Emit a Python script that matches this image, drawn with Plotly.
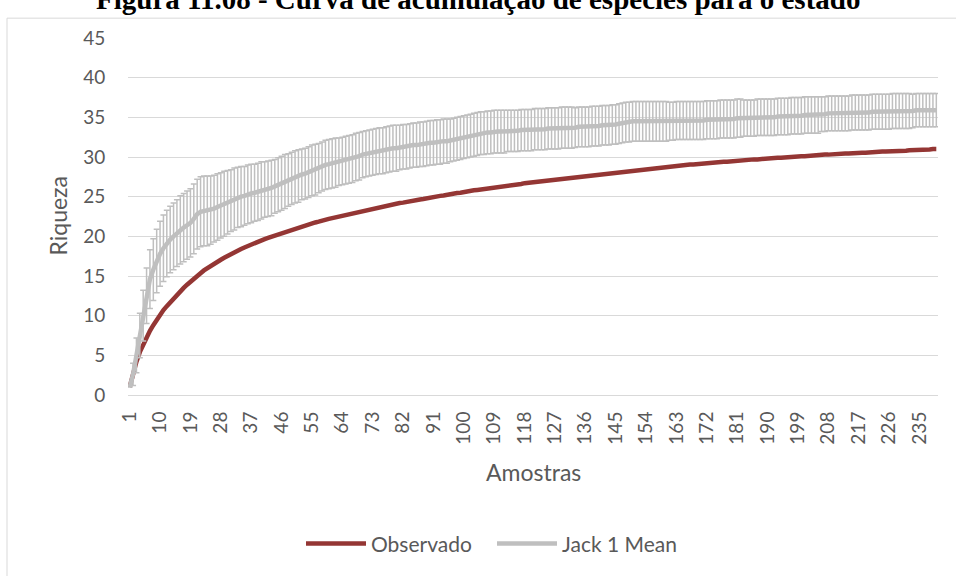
import plotly.graph_objects as go

# ---------------- data ----------------
amostras = list(range(1, 241))
tick_labels = [str(v) for v in range(1, 241, 9)]

observado = [
    1.0, 2.8, 4.2, 5.4, 6.4, 7.3, 8.1, 8.8, 9.5, 10.1,
    10.7, 11.2, 11.7, 12.2, 12.7, 13.1, 13.5, 13.9, 14.3, 14.7,
    15.0, 15.35, 15.7, 16.0, 16.3, 16.55, 16.8, 17.05, 17.3, 17.55,
    17.8, 18.0, 18.2, 18.4, 18.6, 18.8, 19.0, 19.15, 19.3, 19.5,
    19.65, 19.8, 19.95, 20.1, 20.25, 20.4, 20.55, 20.7, 20.85, 21.0,
    21.1, 21.25, 21.35, 21.5, 21.6, 21.75, 21.85, 22.0, 22.1, 22.2,
    22.3, 22.4, 22.5, 22.6, 22.7, 22.8, 22.9, 23.0, 23.1, 23.2,
    23.3, 23.4, 23.5, 23.55, 23.65, 23.75, 23.85, 23.9, 24.0, 24.1,
    24.2, 24.25, 24.35, 24.4, 24.5, 24.55, 24.65, 24.7, 24.8, 24.85,
    24.95, 25.0, 25.1, 25.15, 25.25, 25.3, 25.4, 25.45, 25.5, 25.6,
    25.65, 25.7, 25.8, 25.85, 25.9, 26.0, 26.05, 26.1, 26.15, 26.25,
    26.3, 26.35, 26.4, 26.45, 26.5, 26.55, 26.6, 26.7, 26.75, 26.8,
    26.85, 26.9, 26.95, 27.0, 27.05, 27.1, 27.15, 27.2, 27.25, 27.3,
    27.35, 27.4, 27.45, 27.5, 27.55, 27.6, 27.65, 27.7, 27.75, 27.8,
    27.85, 27.9, 27.95, 28.0, 28.05, 28.1, 28.15, 28.2, 28.25, 28.3,
    28.35, 28.4, 28.45, 28.5, 28.5, 28.55, 28.6, 28.65, 28.7, 28.75,
    28.8, 28.85, 28.9, 28.9, 28.95, 29.0, 29.05, 29.05, 29.1, 29.15,
    29.2, 29.2, 29.25, 29.3, 29.3, 29.35, 29.4, 29.4, 29.45, 29.5,
    29.5, 29.55, 29.6, 29.6, 29.65, 29.7, 29.7, 29.75, 29.75, 29.8,
    29.85, 29.85, 29.9, 29.9, 29.95, 30.0, 30.0, 30.05, 30.05, 30.1,
    30.1, 30.15, 30.2, 30.2, 30.25, 30.25, 30.3, 30.3, 30.35, 30.35,
    30.4, 30.4, 30.45, 30.45, 30.5, 30.5, 30.5, 30.55, 30.55, 30.6,
    30.6, 30.65, 30.65, 30.7, 30.7, 30.7, 30.75, 30.75, 30.8, 30.8,
    30.8, 30.85, 30.85, 30.9, 30.9, 30.9, 30.95, 30.95, 31.0, 31.0,
]

jack1_mean = [
    1.0, 2.6, 5.0, 7.5, 10.0, 12.5, 14.6, 15.8, 16.9, 17.8,
    18.5, 19.1, 19.6, 20.0, 20.4, 20.8, 21.1, 21.4, 21.7, 22.2,
    22.8, 23.1, 23.2, 23.2, 23.3, 23.5, 23.7, 23.9, 24.1, 24.3,
    24.5, 24.7, 24.9, 25.0, 25.1, 25.3, 25.4, 25.5, 25.6, 25.8,
    25.9, 26.0, 26.1, 26.3, 26.5, 26.7, 26.9, 27.1, 27.3, 27.5,
    27.6, 27.8, 27.9, 28.1, 28.3, 28.4, 28.6, 28.8, 29.0, 29.1,
    29.2, 29.3, 29.4, 29.5, 29.6, 29.7, 29.8, 30.0, 30.1, 30.3,
    30.4, 30.5, 30.6, 30.7, 30.8, 30.8, 30.9, 31.0, 31.1, 31.1,
    31.2, 31.3, 31.3, 31.4, 31.5, 31.5, 31.6, 31.6, 31.7, 31.8,
    31.8, 31.9, 31.9, 32.0, 32.0, 32.1, 32.2, 32.3, 32.4, 32.5,
    32.6, 32.7, 32.8, 32.9, 33.0, 33.0, 33.1, 33.1, 33.2, 33.2,
    33.2, 33.2, 33.3, 33.3, 33.3, 33.3, 33.4, 33.4, 33.4, 33.4,
    33.5, 33.5, 33.5, 33.5, 33.6, 33.6, 33.6, 33.6, 33.7, 33.7,
    33.7, 33.7, 33.7, 33.8, 33.8, 33.8, 33.8, 33.9, 33.9, 33.9,
    34.0, 34.0, 34.0, 34.1, 34.1, 34.2, 34.3, 34.4, 34.4, 34.5,
    34.5, 34.5, 34.5, 34.5, 34.5, 34.5, 34.5, 34.5, 34.5, 34.5,
    34.5, 34.5, 34.6, 34.6, 34.6, 34.6, 34.6, 34.6, 34.6, 34.6,
    34.6, 34.7, 34.7, 34.7, 34.7, 34.8, 34.8, 34.8, 34.8, 34.8,
    34.9, 34.9, 34.9, 34.9, 34.9, 34.9, 35.0, 35.0, 35.0, 35.0,
    35.0, 35.0, 35.1, 35.1, 35.1, 35.1, 35.2, 35.2, 35.2, 35.2,
    35.3, 35.3, 35.3, 35.3, 35.3, 35.4, 35.4, 35.5, 35.5, 35.5,
    35.5, 35.5, 35.5, 35.5, 35.6, 35.6, 35.6, 35.6, 35.6, 35.6,
    35.7, 35.7, 35.7, 35.7, 35.7, 35.7, 35.8, 35.8, 35.8, 35.8,
    35.8, 35.8, 35.8, 35.9, 35.9, 35.9, 35.9, 35.9, 35.9, 35.9,
]

jack1_err = [
    0.0, 1.4, 2.2, 2.8, 3.2, 3.5, 3.7, 3.9, 4.0, 4.1,
    4.2, 4.2, 4.2, 4.2, 4.2, 4.3, 4.3, 4.3, 4.3, 4.4,
    4.4, 4.4, 4.4, 4.4, 4.3, 4.2, 4.2, 4.1, 4.1, 4.0,
    3.9, 3.9, 3.8, 3.8, 3.7, 3.7, 3.7, 3.6, 3.6, 3.6,
    3.5, 3.5, 3.5, 3.4, 3.4, 3.4, 3.4, 3.3, 3.3, 3.3,
    3.3, 3.2, 3.2, 3.2, 3.2, 3.2, 3.1, 3.1, 3.1, 3.1,
    3.1, 3.1, 3.0, 3.0, 3.0, 3.0, 3.0, 3.0, 3.0, 2.9,
    2.9, 2.9, 2.9, 2.9, 2.9, 2.9, 2.9, 2.9, 2.9, 2.9,
    2.8, 2.8, 2.8, 2.8, 2.8, 2.8, 2.8, 2.8, 2.8, 2.8,
    2.8, 2.8, 2.8, 2.8, 2.8, 2.7, 2.7, 2.7, 2.7, 2.7,
    2.7, 2.7, 2.7, 2.7, 2.7, 2.7, 2.7, 2.7, 2.7, 2.7,
    2.7, 2.7, 2.6, 2.6, 2.6, 2.6, 2.6, 2.6, 2.6, 2.6,
    2.6, 2.6, 2.6, 2.6, 2.6, 2.6, 2.6, 2.6, 2.6, 2.6,
    2.6, 2.6, 2.5, 2.5, 2.5, 2.5, 2.5, 2.5, 2.5, 2.5,
    2.5, 2.5, 2.5, 2.5, 2.5, 2.5, 2.5, 2.5, 2.5, 2.5,
    2.5, 2.5, 2.5, 2.5, 2.5, 2.5, 2.5, 2.5, 2.5, 2.5,
    2.4, 2.4, 2.4, 2.4, 2.4, 2.4, 2.4, 2.4, 2.4, 2.4,
    2.4, 2.4, 2.4, 2.4, 2.4, 2.4, 2.4, 2.4, 2.4, 2.4,
    2.4, 2.4, 2.3, 2.3, 2.3, 2.3, 2.3, 2.3, 2.3, 2.3,
    2.3, 2.3, 2.3, 2.3, 2.3, 2.3, 2.3, 2.3, 2.3, 2.3,
    2.3, 2.3, 2.3, 2.3, 2.3, 2.2, 2.2, 2.2, 2.2, 2.2,
    2.2, 2.2, 2.2, 2.2, 2.2, 2.2, 2.2, 2.2, 2.2, 2.2,
    2.2, 2.2, 2.2, 2.2, 2.2, 2.2, 2.2, 2.2, 2.2, 2.2,
    2.2, 2.2, 2.1, 2.1, 2.1, 2.1, 2.1, 2.1, 2.1, 2.1,
]

title_text = "Figura 11.08 - Curva de acumulação de espécies para o estado"

# ---------------- figure ----------------
W, H = 956, 576
ML, MR, MT, MB = 128, 18, 38, 178
PW, PH = W - ML - MR, H - MT - MB

def px_x(p):
    return (p - ML) / PW

def px_y(p):
    return (H - MB - p) / PH

TXT = "#595959"
FONT = "Lato"

fig = go.Figure()
fig.add_trace(go.Scatter(
    x=amostras, y=observado, name="Observado", mode="lines",
    line=dict(color="#943634", width=4.5),
))
fig.add_trace(go.Scatter(
    x=amostras, y=jack1_mean, name="Jack 1 Mean", mode="lines",
    line=dict(color="#BFBFBF", width=4.5),
    error_y=dict(type="data", array=jack1_err, visible=True,
                 color="#BFBFBF", thickness=1.5, width=3),
))

fig.update_layout(
    width=W, height=H,
    margin=dict(l=ML, r=MR, t=MT, b=MB),
    paper_bgcolor="white", plot_bgcolor="white",
    font=dict(family=FONT, color=TXT, size=19),
    showlegend=True,
    legend=dict(orientation="h", x=px_x(492), xanchor="center",
                y=px_y(548), yanchor="middle",
                font=dict(size=21, color=TXT, family=FONT),
                itemwidth=60, entrywidth=116, entrywidthmode="pixels",
                bgcolor="rgba(0,0,0,0)"),
    xaxis=dict(
        range=[0.5, 240.5], tickmode="array",
        tickvals=[int(t) for t in tick_labels], ticktext=tick_labels,
        tickangle=-90, showgrid=False, zeroline=False, showline=False,
        ticks="outside", ticklen=8, tickcolor="rgba(0,0,0,0)",
        tickfont=dict(size=19, color=TXT, family=FONT),
    ),
    yaxis=dict(
        range=[0, 45], dtick=5, showgrid=True, gridcolor="#D9D9D9",
        gridwidth=1, zeroline=True, zerolinecolor="#D9D9D9",
        zerolinewidth=1, showline=False,
        ticks="outside", ticklen=18, tickcolor="rgba(0,0,0,0)",
        tickfont=dict(size=19, color=TXT, family=FONT),
    ),
    annotations=[
        dict(text="Riqueza", x=px_x(57), y=0.5, xref="paper", yref="paper",
             showarrow=False, textangle=-90, xanchor="center", yanchor="middle",
             font=dict(size=23, color=TXT, family=FONT)),
        dict(text="Amostras", x=0.5, y=px_y(476), xref="paper", yref="paper",
             showarrow=False, xanchor="center", yanchor="middle",
             font=dict(size=23, color=TXT, family=FONT)),
        dict(text="<b>" + title_text + "</b>", x=px_x(478), y=px_y(17),
             xref="paper", yref="paper", showarrow=False,
             xanchor="center", yanchor="bottom",
             font=dict(size=29, color="black", family="Liberation Serif")),
    ],
    shapes=[
        dict(type="rect", xref="paper", yref="paper",
             x0=px_x(7), x1=px_x(W + 20), y0=px_y(18), y1=px_y(H + 20),
             line=dict(color="#D9D9D9", width=1), fillcolor="rgba(0,0,0,0)",
             layer="below"),
    ],
)

fig.write_html(
    "out.html",
    config={"displayModeBar": False},
    post_script="document.body.style.margin='0';document.body.style.overflow='hidden';",
)
